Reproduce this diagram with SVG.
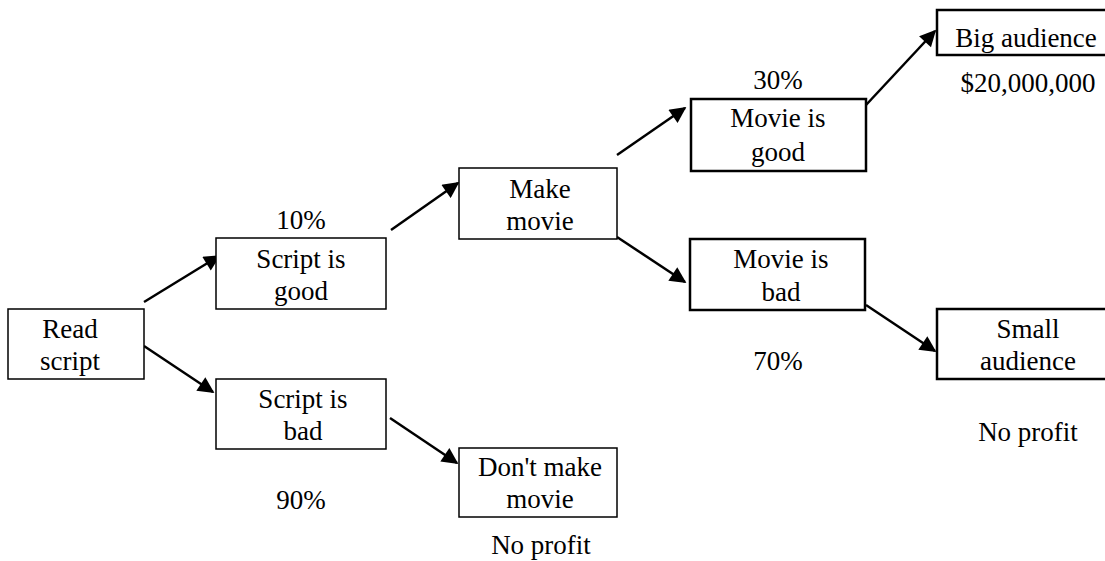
<svg xmlns="http://www.w3.org/2000/svg" width="1105" height="561" viewBox="0 0 1105 561">
<defs>
<style>
.box{fill:#fff;stroke:#000;stroke-width:1.5}
.thick{stroke-width:2.5}
.t{font-family:"Liberation Serif","Times New Roman",serif;font-size:27px;fill:#000;text-anchor:middle}
.edge{stroke:#000;stroke-width:2.5;fill:none;marker-end:url(#ah)}
</style>
<marker id="ah" viewBox="0 0 10 10" refX="9" refY="5" markerWidth="7" markerHeight="6.5" markerUnits="strokeWidth" orient="auto">
<path d="M0,0 L10,5 L0,10 z" fill="#000"/>
</marker>
</defs>
<rect width="1105" height="561" fill="#fff"/>
<g id="connectors">
<line class="edge" x1="144" y1="302" x2="219" y2="256"/>
<line class="edge" x1="144" y1="346" x2="213" y2="392"/>
<line class="edge" x1="391" y1="230" x2="458" y2="183"/>
<line class="edge" x1="390" y1="418" x2="457" y2="463"/>
<line class="edge" x1="617" y1="155" x2="685" y2="108"/>
<line class="edge" x1="617" y1="237" x2="685" y2="282"/>
<line class="edge" x1="866" y1="105" x2="935" y2="31"/>
<line class="edge" x1="866" y1="305" x2="935" y2="351"/>
</g>
<g id="read-script">
<rect class="box" x="8" y="309" width="136" height="70"/>
<text class="t" x="70" y="338">Read</text>
<text class="t" x="70" y="370">script</text>
</g>
<g id="script-good">
<text class="t" x="301" y="229">10%</text>
<rect class="box" x="216" y="238" width="170" height="71"/>
<text class="t" x="301" y="268">Script is</text>
<text class="t" x="301" y="300">good</text>
</g>
<g id="script-bad">
<rect class="box" x="216" y="379" width="170" height="70"/>
<text class="t" x="303" y="408">Script is</text>
<text class="t" x="303" y="440">bad</text>
<text class="t" x="301" y="509">90%</text>
</g>
<g id="make-movie">
<rect class="box" x="459" y="168" width="158" height="71"/>
<text class="t" x="540" y="198">Make</text>
<text class="t" x="540" y="230">movie</text>
</g>
<g id="dont-make-movie">
<rect class="box" x="459" y="448" width="158" height="69"/>
<text class="t" x="540" y="476">Don't make</text>
<text class="t" x="540" y="508">movie</text>
<text class="t" x="541" y="554">No profit</text>
</g>
<g id="movie-good">
<text class="t" x="778" y="89">30%</text>
<rect class="box thick" x="691" y="99" width="175" height="72"/>
<text class="t" x="778" y="127">Movie is</text>
<text class="t" x="778" y="161">good</text>
</g>
<g id="movie-bad">
<rect class="box thick" x="690" y="239" width="175" height="71"/>
<text class="t" x="781" y="268">Movie is</text>
<text class="t" x="781" y="301">bad</text>
<text class="t" x="778" y="370">70%</text>
</g>
<g id="big-audience">
<rect class="box thick" x="937" y="10" width="172" height="45"/>
<text class="t" x="1026" y="47">Big audience</text>
<text class="t" x="1028" y="92">$20,000,000</text>
</g>
<g id="small-audience">
<rect class="box thick" x="937" y="309" width="172" height="70"/>
<text class="t" x="1028" y="338">Small</text>
<text class="t" x="1028" y="370">audience</text>
<text class="t" x="1028" y="441">No profit</text>
</g>
</svg>
